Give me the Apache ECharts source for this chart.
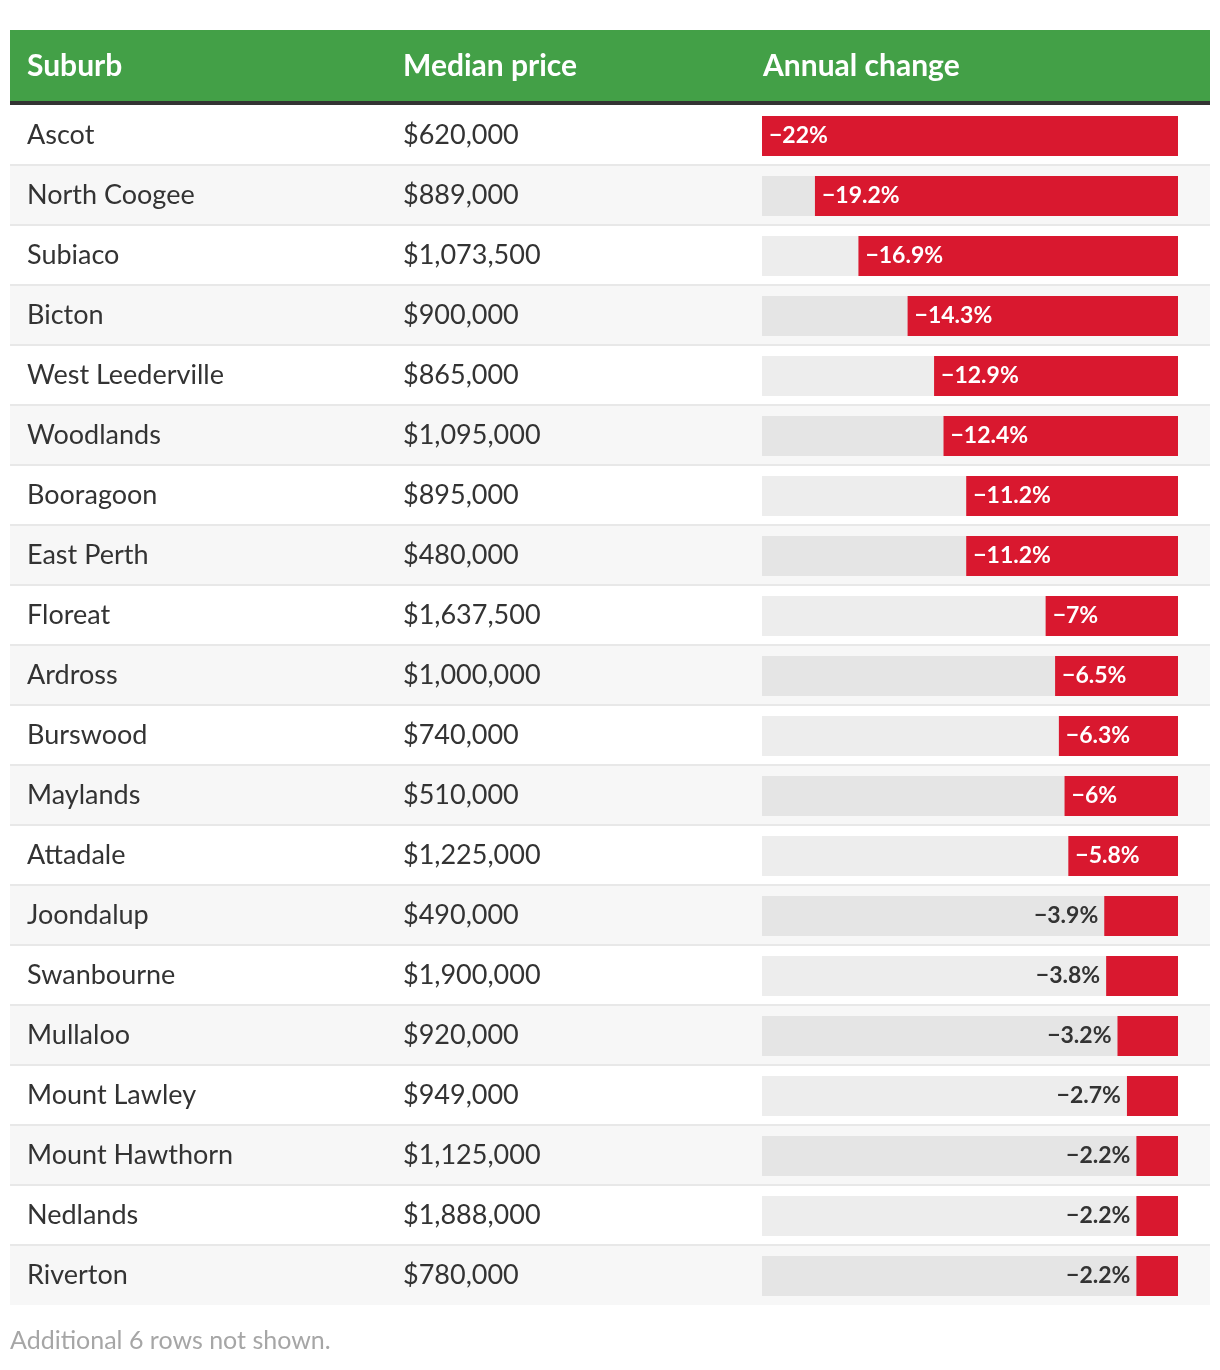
<!DOCTYPE html>
<html>
<head>
<meta charset="utf-8">
<script src="https://cdn.jsdelivr.net/npm/echarts@6/dist/echarts.min.js"></script>
<style>
html,body{margin:0;padding:0;background:#fff;}
#chart{width:1220px;height:1370px;}
</style>
</head>
<body>
<div id="chart"></div>
<script>
const suburbs = ['Ascot','North Coogee','Subiaco','Bicton','West Leederville','Woodlands','Booragoon','East Perth','Floreat','Ardross','Burswood','Maylands','Attadale','Joondalup','Swanbourne','Mullaloo','Mount Lawley','Mount Hawthorn','Nedlands','Riverton'];
const prices = ['$620,000','$889,000','$1,073,500','$900,000','$865,000','$1,095,000','$895,000','$480,000','$1,637,500','$1,000,000','$740,000','$510,000','$1,225,000','$490,000','$1,900,000','$920,000','$949,000','$1,125,000','$1,888,000','$780,000'];
const changes = [-22,-19.2,-16.9,-14.3,-12.9,-12.4,-11.2,-11.2,-7,-6.5,-6.3,-6,-5.8,-3.9,-3.8,-3.2,-2.7,-2.2,-2.2,-2.2];
const headers = ['Suburb','Median price','Annual change'];
const footnote = 'Additional 6 rows not shown.';

const FONT = 'Lato, "Noto Sans", sans-serif';
const chart = echarts.init(document.getElementById('chart'), null, {renderer:'canvas'});

const barData = changes.map(v => {
  const inside = Math.abs(v) >= 5;
  return {
    value: v,
    label: inside
      ? {position:'insideLeft', color:'#ffffff', distance:7}
      : {position:'left', color:'#333333', distance:6}
  };
});

chart.setOption({
  animation:false,
  grid:[
    {left:10, top:105, width:1200, height:1200},
    {left:762, top:106, width:416, height:1200}
  ],
  xAxis:[
    {gridIndex:0, type:'value', min:0, max:1, show:false},
    {gridIndex:1, type:'value', min:-22, max:0, show:false}
  ],
  yAxis:[
    {gridIndex:0, type:'category', inverse:true, data:suburbs,
     axisLine:{show:false}, axisTick:{show:false},
     splitLine:{show:true, showMinLine:false, showMaxLine:false, lineStyle:{color:'#e8e8e8', width:2}},
     splitArea:{show:true, areaStyle:{color:['#ffffff','#f7f7f7']}},
     axisLabel:{inside:true, margin:17, align:'left',
       formatter:(val, idx) => '{a|' + val + '}{b|' + prices[idx] + '}',
       rich:{
         a:{width:376, fontFamily:FONT, fontSize:27, color:'#333333'},
         b:{fontFamily:FONT, fontSize:27, color:'#333333'}
       }}
    },
    {gridIndex:1, type:'category', inverse:true, data:suburbs, show:false}
  ],
  series:[{
    type:'bar', xAxisIndex:1, yAxisIndex:1,
    data:barData, barWidth:40,
    itemStyle:{color:'#d9182f'},
    showBackground:true,
    backgroundStyle:{color:'rgba(0,0,0,0.07)'},
    label:{show:true, fontFamily:FONT, fontSize:23, fontWeight:'bold',
      formatter:p => '\u2212' + Math.abs(p.value) + '%'}
  }],
  graphic:[
    {type:'rect', shape:{x:10, y:30, width:1200, height:71}, style:{fill:'#43a047'}},
    {type:'rect', shape:{x:10, y:101, width:1200, height:4}, style:{fill:'#333333'}},
    {type:'text', x:27, y:66, style:{text:headers[0], fill:'#fff', font:'bold 30px ' + FONT, textVerticalAlign:'middle'}},
    {type:'text', x:403, y:66, style:{text:headers[1], fill:'#fff', font:'bold 30px ' + FONT, textVerticalAlign:'middle'}},
    {type:'text', x:763, y:66, style:{text:headers[2], fill:'#fff', font:'bold 30px ' + FONT, textVerticalAlign:'middle'}},
    {type:'text', x:10, y:1341, style:{text:footnote, fill:'#a6a6a6', font:'25px ' + FONT, textVerticalAlign:'middle'}}
  ]
});
</script>
</body>
</html>
